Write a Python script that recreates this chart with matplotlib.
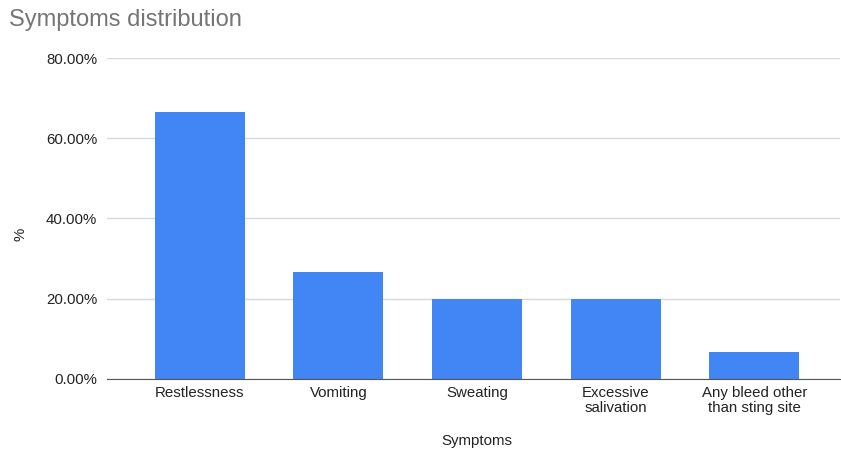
import matplotlib.pyplot as plt
from matplotlib.ticker import FuncFormatter

categories = ["Restlessness", "Vomiting", "Sweating", "Excessive\nsalivation",
              "Any bleed other\nthan sting site"]
percent = [66.67, 26.67, 20.0, 20.0, 6.67]
yticks = [0, 20, 40, 60, 80]

plt.rcParams['font.family'] = ['Liberation Sans', 'DejaVu Sans']

fig = plt.figure(figsize=(8.41, 4.5), dpi=100)
ax = fig.add_axes([0.127, 0.158, 0.872, 0.713])

x = range(len(categories))
ax.bar(x, percent, width=0.65, color='#4285F4', zorder=3)

ax.set_xlim(-0.67, 4.62)
ax.set_ylim(0, 80)
ax.set_yticks(yticks)
ax.yaxis.set_major_formatter(FuncFormatter(lambda v, p: f"{v:.2f}%"))
ax.set_xticks(list(x))
ax.set_xticklabels(categories, linespacing=1.1)

ax.grid(axis='y', color='#d9d9d9', linewidth=1, zorder=0)
for s in ['top', 'right', 'left']:
    ax.spines[s].set_visible(False)
ax.spines['bottom'].set_color('#555555')
ax.spines['bottom'].set_zorder(4)
ax.tick_params(axis='both', length=0, labelsize=10.8, labelcolor='#222222')
ax.tick_params(axis='y', pad=7)
ax.tick_params(axis='x', pad=5)

ax.set_xlabel("Symptoms", fontsize=10.8, color='#222222')
ax.set_ylabel("%", fontsize=10.8, color='#222222')
ax.yaxis.set_label_coords(-0.108, 0.45)
ax.xaxis.set_label_coords(0.505, -0.172)

fig.text(0.011, 0.955, "Symptoms distribution", fontsize=17, color='#757575',
         va='center', ha='left')

fig.savefig("out.png", dpi=100)
